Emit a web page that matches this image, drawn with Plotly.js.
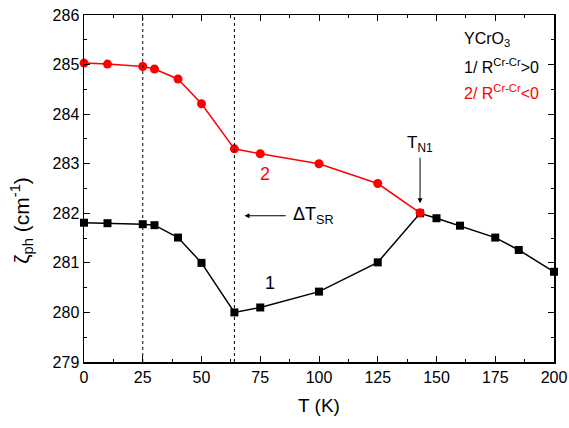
<!DOCTYPE html>
<html>
<head>
<meta charset="utf-8">
<script src="https://cdn.plot.ly/plotly-3.0.1.min.js"></script>
<style>html,body{margin:0;padding:0;background:#fff;}#chart{width:569px;height:428px;}</style>
</head>
<body>
<div id="chart"></div>
<script>
// Data
const tempBlack = [0, 10, 25, 30, 40, 50, 64, 75, 100, 125, 143, 150, 160, 175, 185, 200];
const zetaBlack = [281.81, 281.8, 281.78, 281.76, 281.51, 281.0, 280.0, 280.1, 280.42, 281.01, 282.0, 281.9, 281.75, 281.51, 281.26, 280.82];
const tempRed = [0, 10, 25, 30, 40, 50, 64, 75, 100, 125, 143];
const zetaRed = [285.03, 285.01, 284.96, 284.91, 284.71, 284.21, 283.3, 283.2, 283.0, 282.6, 282.01];
const xTicks = [0, 25, 50, 75, 100, 125, 150, 175, 200];
const yTicks = [279, 280, 281, 282, 283, 284, 285, 286];
const dottedLinesT = [25, 64];

const font = 'Liberation Sans, Arial, sans-serif';

const traces = [
  {x: tempBlack, y: zetaBlack, mode: 'lines+markers', type: 'scatter',
   line: {color: '#000000', width: 1.5},
   marker: {symbol: 'square', size: 8, color: '#000000'}, cliponaxis: false},
  {x: tempRed, y: zetaRed, mode: 'lines+markers', type: 'scatter',
   line: {color: '#ff0000', width: 1.5},
   marker: {symbol: 'circle', size: 9, color: '#ff0000'}, cliponaxis: false}
];

const shapes = dottedLinesT.map(t => ({
  type: 'line', xref: 'x', yref: 'paper', x0: t, x1: t, y0: 0, y1: 1,
  line: {color: '#000000', width: 1, dash: 'dot'}
}));

const annotations = [
  {x: 77, y: 282.8, text: '2', showarrow: false, font: {family: font, size: 18, color: '#ff0000'}},
  {x: 79, y: 280.6, text: '1', showarrow: false, font: {family: font, size: 18, color: '#000000'}},
  {x: 68.3, y: 281.95, ax: 86.5, ay: 281.95, axref: 'x', ayref: 'y', text: '', showarrow: true,
   arrowhead: 2, arrowsize: 1, arrowwidth: 1, arrowcolor: '#000000'},
  {x: 88, y: 281.95, text: 'ΔT<sub>SR</sub>', showarrow: false, xanchor: 'left',
   font: {family: font, size: 18, color: '#000000'}},
  {x: 143, y: 282.2, ax: 143, ay: 283.15, axref: 'x', ayref: 'y', text: '', showarrow: true,
   arrowhead: 2, arrowsize: 1, arrowwidth: 1, arrowcolor: '#000000'},
  {x: 143, y: 283.4, text: 'T<sub>N1</sub>', showarrow: false,
   font: {family: font, size: 17, color: '#000000'}},
  {x: 161, y: 285.5, text: 'YCrO<sub>3</sub>', showarrow: false, xanchor: 'left',
   font: {family: font, size: 16, color: '#000000'}},
  {x: 161, y: 284.97, text: '1/ R<sup>Cr-Cr</sup>&gt;0', showarrow: false, xanchor: 'left',
   font: {family: font, size: 16, color: '#000000'}},
  {x: 161, y: 284.45, text: '2/ R<sup>Cr-Cr</sup>&lt;0', showarrow: false, xanchor: 'left',
   font: {family: font, size: 16, color: '#ff0000'}},
  {xref: 'paper', yref: 'paper', x: -0.132, y: 0.41, text: 'ζ<sub>ph</sub> (cm<sup>-1</sup>)',
   textangle: -90, showarrow: false, xanchor: 'center', yanchor: 'middle',
   font: {family: font, size: 21, color: '#000000'}}
];

const layout = {
  width: 569, height: 428,
  margin: {l: 84, r: 15, t: 15, b: 66},
  paper_bgcolor: '#ffffff', plot_bgcolor: '#ffffff',
  showlegend: false,
  font: {family: font, color: '#000000'},
  xaxis: {
    range: [0, 200], tickvals: xTicks, ticktext: xTicks.map(String),
    ticks: 'inside', ticklen: 6, tickwidth: 1, tickcolor: '#000',
    minor: {dtick: 12.5, ticks: 'inside', ticklen: 3, tickcolor: '#000'},
    showline: true, linecolor: '#000', linewidth: 1.5, mirror: 'allticks',
    showgrid: false, zeroline: false,
    tickfont: {family: font, size: 16, color: '#000'},
    title: {text: 'T (K)', font: {family: font, size: 19, color: '#000'}, standoff: 14}
  },
  yaxis: {
    range: [279, 286], tickvals: yTicks, ticktext: yTicks.map(String),
    ticks: 'inside', ticklen: 6, tickwidth: 1, tickcolor: '#000',
    minor: {dtick: 0.5, ticks: 'inside', ticklen: 3, tickcolor: '#000'},
    showline: true, linecolor: '#000', linewidth: 1.5, mirror: 'allticks',
    showgrid: false, zeroline: false,
    tickfont: {family: font, size: 16, color: '#000'}
  },
  shapes: shapes,
  annotations: annotations
};

Plotly.newPlot('chart', traces, layout, {displayModeBar: false, staticPlot: true});
</script>
</body>
</html>
